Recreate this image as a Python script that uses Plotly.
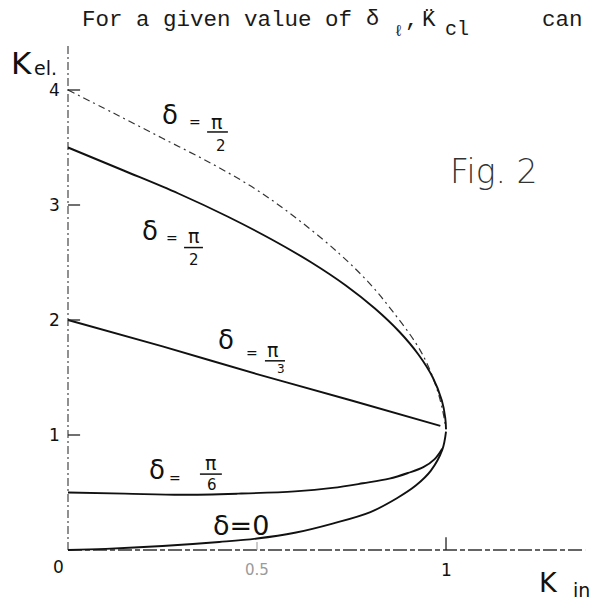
import plotly.graph_objects as go

# ---- curves: K_el as a function of K_in for several values of delta ----
kin_top = [0.0, 0.12, 0.25, 0.38, 0.5, 0.61, 0.72, 0.8, 0.86, 0.92, 0.95, 0.975, 0.99, 1.0]
kel_top = [4.0, 3.80, 3.58, 3.36, 3.13, 2.87, 2.57, 2.31, 2.07, 1.8, 1.62, 1.41, 1.23, 1.05]

kin_half = [0.0, 0.147, 0.292, 0.422, 0.539, 0.644, 0.735, 0.812, 0.876, 0.927, 0.965, 0.989, 0.998, 1.0]
kel_half = [3.5, 3.3, 3.1, 2.9, 2.7, 2.5, 2.3, 2.1, 1.9, 1.7, 1.5, 1.3, 1.15, 1.05]

kin_third = [0.0, 0.25, 0.5, 0.75, 0.985]
kel_third = [2.0, 1.77, 1.53, 1.30, 1.08]

kin_sixth = [0.0, 0.15, 0.3, 0.45, 0.6, 0.7, 0.78, 0.85, 0.9, 0.94, 0.97, 0.99]
kel_sixth = [0.5, 0.49, 0.48, 0.49, 0.51, 0.54, 0.58, 0.62, 0.67, 0.72, 0.79, 0.88]

kin_zero = [0.0, 0.1, 0.25, 0.4, 0.5, 0.6, 0.7, 0.8, 0.87, 0.92, 0.96, 0.99, 1.0]
kel_zero = [0.0, 0.01, 0.035, 0.07, 0.1, 0.15, 0.23, 0.33, 0.45, 0.56, 0.69, 0.87, 1.03]

# ---- axes ----
y_ticks = [1, 2, 3, 4]
y_tick_labels = ["1", "2", "3", "4"]
x_ticks = [0.5, 1]
x_tick_labels = ["0.5", "1"]

X_RANGE = [-0.1799, 1.3968]
Y_RANGE = [-0.4348, 4.7826]
X_AXIS_END = 1.368
Y_AXIS_TOP = 4.39

HAND = "DejaVu Sans"
TYPE = "Liberation Mono"
INK = "#111111"
TYPE_INK = "#1a1a1a"

fig = go.Figure()

# axis lines (hand ruled, broken)
fig.add_trace(go.Scatter(x=[0, 0], y=[0, Y_AXIS_TOP], mode="lines",
                         line=dict(color="#555555", width=1.3, dash="8px,3px,2px,3px"),
                         hoverinfo="skip"))
fig.add_trace(go.Scatter(x=[0, X_AXIS_END], y=[0, 0], mode="lines",
                         line=dict(color="#333333", width=1.3, dash="14px,3px,5px,3px"),
                         hoverinfo="skip"))

# curves
solid = dict(color=INK, width=1.9)
fig.add_trace(go.Scatter(x=kin_top, y=kel_top, mode="lines", line_shape="spline",
                         line=dict(color="#333333", width=1.2, dash="7px,4px,2px,4px"),
                         hoverinfo="skip"))
for xs, ys in [(kin_half, kel_half), (kin_third, kel_third),
               (kin_sixth, kel_sixth), (kin_zero, kel_zero)]:
    fig.add_trace(go.Scatter(x=xs, y=ys, mode="lines", line_shape="spline",
                             line=solid, hoverinfo="skip"))

shapes = []
# tick marks
for v in y_ticks:
    shapes.append(dict(type="line", xref="x", yref="y", x0=0, x1=0.032, y0=v, y1=v,
                       line=dict(color="#222222", width=1.3)))
shapes.append(dict(type="line", xref="x", yref="y", x0=0.5, x1=0.5, y0=0, y1=0.07,
                   line=dict(color="#999999", width=1)))
shapes.append(dict(type="line", xref="x", yref="y", x0=1, x1=1, y0=0, y1=0.11,
                   line=dict(color="#222222", width=1.3)))

annotations = []


def text(x, y, s, size, color=INK, family=HAND, xanchor="center", yanchor="middle",
         xref="x", yref="y", weight=None):
    f = dict(family=family, size=size, color=color)
    if weight:
        f["weight"] = weight
    annotations.append(dict(x=x, y=y, xref=xref, yref=yref, text=s, showarrow=False,
                            font=f, xanchor=xanchor, yanchor=yanchor))


def frac_label(xd, yd, xe, ye, xn, yn, xb0, xb1, yb, xden, yden, den, den_size=15):
    text(xd, yd, "δ", 26)
    text(xe, ye, "=", 14)
    text(xn, yn, "π", 19)
    shapes.append(dict(type="line", xref="x", yref="y", x0=xb0, x1=xb1, y0=yb, y1=yb,
                       line=dict(color=INK, width=1.5)))
    text(xden, yden, den, den_size)


# curve labels
frac_label(0.270, 3.78, 0.336, 3.72, 0.394, 3.72, 0.368, 0.423, 3.635, 0.405, 3.51, "2")
frac_label(0.217, 2.77, 0.275, 2.71, 0.331, 2.73, 0.307, 0.357, 2.63, 0.333, 2.52, "2")
frac_label(0.418, 1.83, 0.487, 1.71, 0.542, 1.74, 0.521, 0.574, 1.645, 0.563, 1.57, "3", 12)
frac_label(0.235, 0.70, 0.283, 0.63, 0.378, 0.76, 0.349, 0.407, 0.66, 0.381, 0.565, "6")
text(0.458, 0.217, "δ=0", 27)

# tick labels
for v, lab in zip(y_ticks, y_tick_labels):
    text(-0.036, v, lab, 17)
text(-0.024, -0.148, "0", 17)
for v, lab in zip(x_ticks, x_tick_labels):
    text(v, -0.174, lab, 15 if v == 0.5 else 17, color="#9a9a9a" if v == 0.5 else INK)


def px(x, y, s, size, **kw):
    text(x / 596, 1 - y / 600, s, size, xref="paper", yref="paper", **kw)


# axis titles
px(21, 63, "K", 31)
px(45, 68, "el.", 19)
px(548, 582, "K", 27)
px(581, 590, "in", 19)

# figure caption inside the plot
px(494, 172, "Fig. 2", 33, color="#333333", weight=300)

# typed line of running text above the figure
hdr = dict(family=TYPE, color=TYPE_INK, yanchor="bottom")
px(80, 35, "For a given value of", 22.5, xanchor="left", **hdr)
px(372, 34, "δ", 22, **hdr)
px(399, 43, "ℓ", 16, **hdr)
px(412, 35, ",", 22.5, **hdr)
px(429, 35, "K̈", 22.5, **hdr)
px(457, 43, "cl", 20, **hdr)
px(540, 35, "can", 22.5, xanchor="left", **hdr)

fig.update_layout(
    width=596, height=600,
    margin=dict(l=0, r=0, t=0, b=0),
    paper_bgcolor="white", plot_bgcolor="white",
    showlegend=False,
    xaxis=dict(range=X_RANGE, visible=False, fixedrange=True),
    yaxis=dict(range=Y_RANGE, visible=False, fixedrange=True),
    shapes=shapes,
    annotations=annotations,
)

fig.write_html("out.html")
